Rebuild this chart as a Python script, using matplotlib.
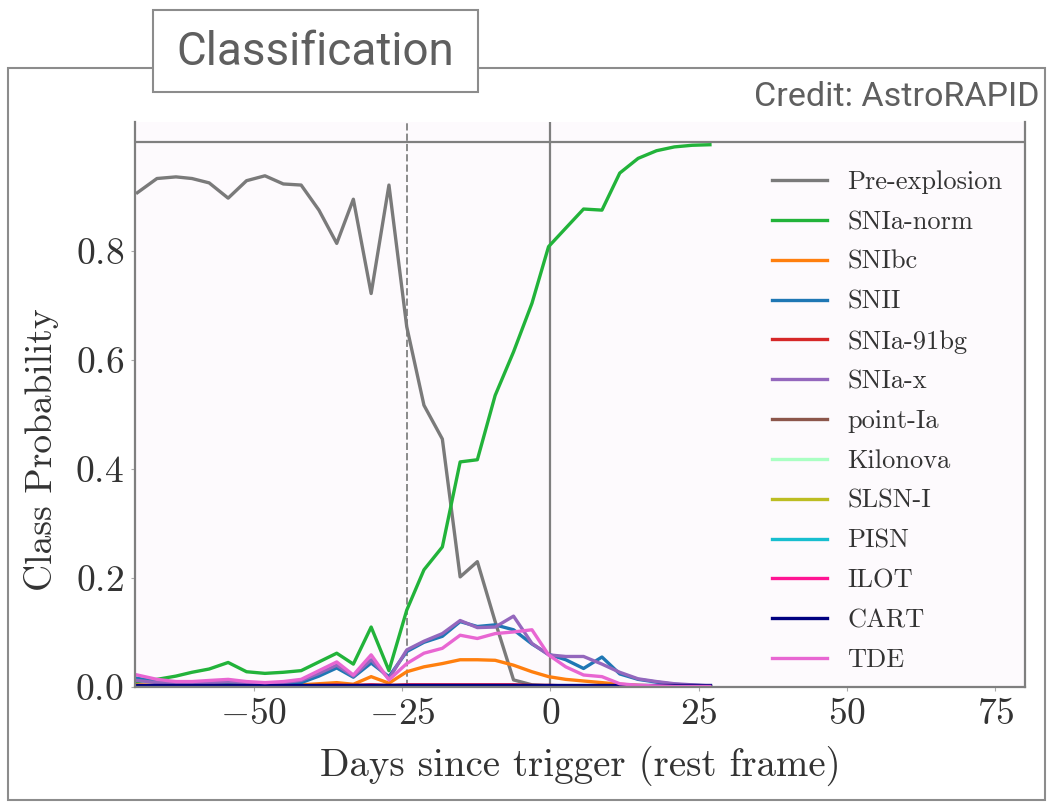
import matplotlib
matplotlib.use('Agg')
import matplotlib.pyplot as plt
from matplotlib.patches import Rectangle

plt.rcParams['font.family'] = 'cmr10'
plt.rcParams['mathtext.fontset'] = 'cm'
plt.rcParams['axes.formatter.use_mathtext'] = True

# days since trigger (shared time grid of the classifier output)
days = [-69.6, -66.3, -63.1, -60.4, -57.5, -54.3, -51.2, -48.1, -45.0, -42.0,
        -39.0, -36.0, -33.2, -30.2, -27.2, -24.2, -21.3, -18.2, -15.2, -12.3,
        -9.3, -6.2, -3.1, -0.3, 2.6, 5.6, 8.7, 11.7, 14.8, 17.9,
        20.9, 23.9, 26.9]

pre_explosion = [0.907, 0.933, 0.936, 0.933, 0.925, 0.897, 0.929, 0.938, 0.923, 0.921,
                 0.875, 0.814, 0.895, 0.722, 0.921, 0.661, 0.517, 0.455, 0.202, 0.230,
                 0.120, 0.013, 0.004, 0.002, 0.001, 0.001, 0.001, 0.0, 0.0, 0.0,
                 0.0, 0.0, 0.0]
snia_norm = [0.010, 0.014, 0.020, 0.027, 0.033, 0.045, 0.028, 0.025, 0.027, 0.030,
             0.046, 0.062, 0.042, 0.110, 0.030, 0.141, 0.215, 0.257, 0.413, 0.417,
             0.535, 0.615, 0.704, 0.808, 0.842, 0.877, 0.875, 0.943, 0.970, 0.984,
             0.991, 0.994, 0.995]
snibc = [0.004, 0.003, 0.003, 0.003, 0.004, 0.005, 0.004, 0.003, 0.003, 0.004,
         0.006, 0.008, 0.005, 0.019, 0.007, 0.028, 0.037, 0.043, 0.050, 0.050,
         0.049, 0.040, 0.028, 0.019, 0.014, 0.011, 0.008, 0.005, 0.003, 0.002,
         0.001, 0.001, 0.001]
snii = [0.016, 0.010, 0.006, 0.005, 0.004, 0.004, 0.004, 0.004, 0.005, 0.008,
        0.020, 0.035, 0.018, 0.044, 0.019, 0.065, 0.082, 0.093, 0.120, 0.111,
        0.114, 0.105, 0.079, 0.060, 0.050, 0.034, 0.055, 0.024, 0.014, 0.009,
        0.005, 0.003, 0.002]
snia_91bg = [0.002, 0.002, 0.002, 0.002, 0.002, 0.002, 0.002, 0.002, 0.002, 0.002,
             0.003, 0.003, 0.003, 0.004, 0.003, 0.004, 0.004, 0.004, 0.004, 0.004,
             0.004, 0.004, 0.003, 0.003, 0.002, 0.002, 0.002, 0.001, 0.001, 0.001,
             0.001, 0.001, 0.001]
snia_x = [0.012, 0.008, 0.006, 0.006, 0.008, 0.010, 0.008, 0.006, 0.008, 0.012,
          0.025, 0.040, 0.020, 0.050, 0.015, 0.068, 0.084, 0.098, 0.122, 0.109,
          0.110, 0.130, 0.080, 0.059, 0.056, 0.056, 0.042, 0.027, 0.015, 0.010,
          0.006, 0.004, 0.002]
point_ia = [0.001] * 33
kilonova = [0.001] * 33
slsn_i = [0.001] * 33
pisn = [0.001] * 33
ilot = [0.002, 0.002, 0.002, 0.002, 0.002, 0.002, 0.002, 0.002, 0.002, 0.002,
        0.002, 0.003, 0.002, 0.003, 0.002, 0.003, 0.003, 0.003, 0.003, 0.003,
        0.003, 0.003, 0.002, 0.002, 0.002, 0.001, 0.001, 0.001, 0.001, 0.001,
        0.001, 0.001, 0.001]
cart = [0.003] * 33
tde = [0.022, 0.014, 0.010, 0.010, 0.012, 0.014, 0.010, 0.008, 0.010, 0.014,
       0.030, 0.046, 0.022, 0.059, 0.013, 0.043, 0.062, 0.071, 0.095, 0.089,
       0.098, 0.101, 0.105, 0.059, 0.037, 0.022, 0.019, 0.006, 0.003, 0.002,
       0.001, 0.001, 0.001]

labels = ['Pre-explosion', 'SNIa-norm', 'SNIbc', 'SNII', 'SNIa-91bg', 'SNIa-x',
          'point-Ia', 'Kilonova', 'SLSN-I', 'PISN', 'ILOT', 'CART', 'TDE']
series = [pre_explosion, snia_norm, snibc, snii, snia_91bg, snia_x,
          point_ia, kilonova, slsn_i, pisn, ilot, cart, tde]
colors = ['#7a7a7a', '#22b33a', 'tab:orange', 'tab:blue', 'tab:red', 'tab:purple',
          'tab:brown', '#aaffc3', 'tab:olive', 'tab:cyan', '#FF1493', 'navy', '#e866d2']

trigger_day = 0.0
dashed_day = -24.1

fig = plt.figure(figsize=(10.52, 8.1), dpi=100)

# card frame and title box
edge = '#8c8c8c'
fig.patches.append(Rectangle((8 / 1052, 10 / 810), 1037 / 1052, 732 / 810,
                             transform=fig.transFigure, fill=False,
                             edgecolor=edge, lw=1.5, zorder=0))
fig.patches.append(Rectangle((153 / 1052, 718 / 810), 325 / 1052, 82 / 810,
                             transform=fig.transFigure, facecolor='white',
                             edgecolor=edge, lw=1.5, zorder=1))
fig.text(315 / 1052, 758 / 810, 'Classification', family='Roboto', fontsize=33,
         color='#5f5f5f', ha='center', va='center')
fig.text(1039 / 1052, 713 / 810, 'Credit: AstroRAPID', family='Roboto', fontsize=24.5,
         color='#5f5f5f', ha='right', va='center')

ax = fig.add_axes([135 / 1052, 123 / 810, 890 / 1052, 565 / 810])
ax.set_facecolor('#fdfafd')

for vals, lab, col in zip(series, labels, colors):
    ax.plot(days, vals, color=col, lw=2.4, label=lab)

ax.axhline(1.0, color='#7f7f7f', lw=1.6, zorder=0)
ax.axvline(trigger_day, color='#7f7f7f', lw=1.6, zorder=0)
ax.axvline(dashed_day, color='#8a8a8a', lw=1.4, ls='--', zorder=0)

ax.set_xlim(-70, 80)
ax.set_ylim(0, 1.0367)
ax.set_xticks([-50, -25, 0, 25, 50, 75])
ax.set_yticks([0.0, 0.2, 0.4, 0.6, 0.8])
ax.tick_params(labelsize=27, length=3, color='#aaaaaa', labelcolor='#333333', pad=5)
ax.spines['top'].set_visible(False)
for s in ['left', 'right', 'bottom']:
    ax.spines[s].set_color('#7f7f7f')
    ax.spines[s].set_linewidth(1.6)

ax.set_xlabel('Days since trigger (rest frame)', fontsize=28, color='#333333', labelpad=10)
ax.set_ylabel('Class Probability', fontsize=27, color='#333333')
ax.yaxis.set_label_coords(-0.085, 0.42)

leg = ax.legend(loc='upper left', frameon=False, fontsize=19, handlelength=2.1,
                handletextpad=0.75, labelspacing=0.61, borderpad=0, borderaxespad=0,
                bbox_to_anchor=(0.7157, 0.914))
for t in leg.get_texts():
    t.set_color('#333333')

fig.savefig('out.png', dpi=100)
